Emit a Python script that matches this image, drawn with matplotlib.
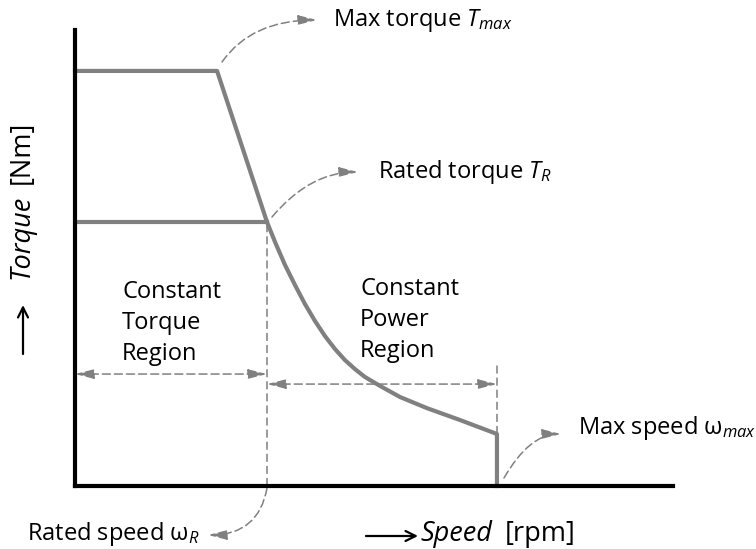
import matplotlib
matplotlib.use('Agg')
import matplotlib.pyplot as plt

plt.rcParams['font.family'] = ['Open Sans', 'DejaVu Sans']
plt.rcParams['mathtext.fontset'] = 'custom'
plt.rcParams['mathtext.rm'] = 'Open Sans'
plt.rcParams['mathtext.it'] = 'Open Sans:italic'
plt.rcParams['lines.scale_dashes'] = False

# per-unit values (rated speed = 1, rated torque = 1)
rated_speed = 1.0
rated_torque = 1.0
max_torque = 1.572
max_torque_speed = 0.74          # end of the max torque plateau
max_speed = 2.198
max_speed_torque = 0.197

# constant power part of the curve
speed_curve = [1.000, 1.042, 1.094, 1.146, 1.198, 1.250, 1.302, 1.354,
               1.406, 1.458, 1.510, 1.589, 1.693, 1.833, 2.005, 2.198]
torque_curve = [1.000, 0.924, 0.837, 0.761, 0.689, 0.625, 0.568, 0.519,
                0.477, 0.443, 0.413, 0.379, 0.337, 0.295, 0.250, 0.197]

GRAY = '#808080'
DASH = (0, (5.8, 2.9))
FS = 17
FS_AXIS = 19.5
W, H = 756, 549


def fp(x, y):
    # image pixel -> figure fraction
    return (x / W, 1 - y / H)


fig = plt.figure(figsize=(W / 100, H / 100), dpi=100)
ax = fig.add_axes([75 / W, 1 - 486 / H, (673 - 75) / W, (486 - 30) / H])
ax.set_xlim(0, 3.115)
ax.set_ylim(0, 1.727)

for s in ['top', 'right']:
    ax.spines[s].set_visible(False)
for s in ['left', 'bottom']:
    ax.spines[s].set_linewidth(3)
    ax.spines[s].set_color('black')
    ax.spines[s].set_zorder(5)
ax.set_xticks([])
ax.set_yticks([])

# torque-speed envelope
env_x = [0, max_torque_speed] + speed_curve + [max_speed]
env_y = [max_torque, max_torque] + torque_curve + [0]
ax.plot(env_x, env_y, color=GRAY, lw=3, solid_joinstyle='round', clip_on=False, zorder=4)
ax.plot([0, rated_speed], [rated_torque, rated_torque], color=GRAY, lw=3, zorder=4)

# dashed guides
ax.plot([rated_speed, rated_speed], [0, rated_torque], color=GRAY, lw=1.1, ls=DASH, zorder=3)
ax.plot([max_speed, max_speed], [max_speed_torque, 0.47], color=GRAY, lw=1.1, ls=DASH, zorder=3)

arr2 = dict(arrowstyle='<|-|>,head_length=0.95,head_width=0.24', mutation_scale=12,
            color=GRAY, lw=1.1, ls=DASH, shrinkA=0, shrinkB=0)
ax.annotate('', xy=(rated_speed, 0.424), xytext=(0, 0.424), arrowprops=arr2)
ax.annotate('', xy=(max_speed, 0.386), xytext=(rated_speed, 0.386), arrowprops=arr2)


def curved(start, tip, angle):
    ax.annotate('', xy=fp(*tip), xycoords='figure fraction',
                xytext=fp(*start), textcoords='figure fraction',
                arrowprops=dict(arrowstyle='-|>,head_length=0.95,head_width=0.24',
                                mutation_scale=12, color=GRAY, lw=1.1, ls=DASH,
                                shrinkA=0, shrinkB=0,
                                connectionstyle='angle3,angleA=%d,angleB=0' % angle))


curved((222, 62), (317, 20), 55)
curved((272, 217), (358, 172), 50)
curved((504, 478), (561, 434), 60)
curved((267, 488), (208, 535), 80)

# labels
fig.text(*fp(333, 20), 'Max torque $T_{max}$', fontsize=FS, va='center', ha='left')
fig.text(*fp(378, 172), 'Rated torque $T_{R}$', fontsize=FS, va='center', ha='left')
fig.text(*fp(578, 428), 'Max speed ω$_{max}$', fontsize=FS, va='center', ha='left')
fig.text(*fp(27, 534), 'Rated speed ω$_{R}$', fontsize=FS, va='center', ha='left')
fig.text(*fp(122, 323), 'Constant\nTorque\nRegion', fontsize=FS, va='center', ha='left',
         linespacing=1.4)
fig.text(*fp(360, 320), 'Constant\nPower\nRegion', fontsize=FS, va='center', ha='left',
         linespacing=1.4)

# axis titles
fig.text(*fp(420, 534), 'Speed', fontsize=FS_AXIS, style='italic', va='center', ha='left')
fig.text(*fp(505, 534), '[rpm]', fontsize=FS_AXIS, va='center', ha='left')
ax.annotate('', xy=fp(418, 536), xycoords='figure fraction',
            xytext=fp(366, 536), textcoords='figure fraction',
            arrowprops=dict(arrowstyle='->,head_length=0.6,head_width=0.3',
                            mutation_scale=12, color='black', lw=1.6,
                            shrinkA=0, shrinkB=0))
fig.text(*fp(22, 237), 'Torque', fontsize=FS_AXIS, style='italic', va='center', ha='center',
         rotation=90)
fig.text(*fp(22, 152), '[Nm]', fontsize=FS_AXIS, va='center', ha='center', rotation=90)
ax.annotate('', xy=fp(23, 305), xycoords='figure fraction',
            xytext=fp(23, 354), textcoords='figure fraction',
            arrowprops=dict(arrowstyle='->,head_length=0.6,head_width=0.3',
                            mutation_scale=12, color='black', lw=1.6,
                            shrinkA=0, shrinkB=0))

fig.savefig('out.png', dpi=100)
